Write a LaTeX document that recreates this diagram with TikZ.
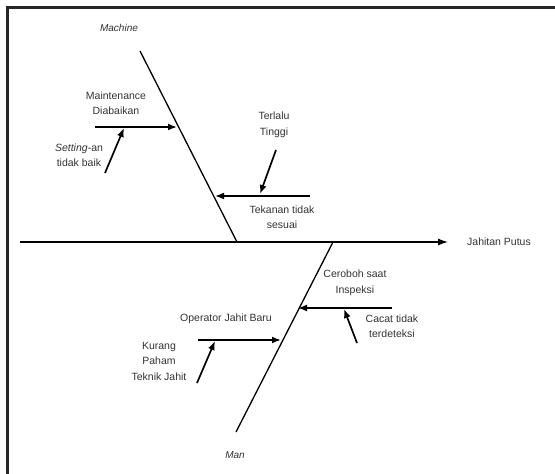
\documentclass[tikz,border=0pt]{standalone}
\usepackage{fontspec}
\setmainfont{Liberation Sans}
\usetikzlibrary{arrows.meta}

\begin{document}
\begin{tikzpicture}[x=1pt,y=-1pt,font=\fontsize{10.5}{15.5}\selectfont] % 1pt = 1 pixel of the reference
    \tikzstyle{cause}=[align=center, inner sep=1pt, text=black!80]
    \tikzstyle{bone}=[line width=1.3pt]
    \tikzstyle{sub}=[line width=1.7pt, -{Latex[length=9pt,width=7pt]}]
    \useasboundingbox (0,0) rectangle (555,474);
    \draw[line width=3pt, black!85] (7.5,474) -- (7.5,7.5) -- (555,7.5); % frame

    % spine and effect
    \coordinate (sp0) at (20,242);
    \coordinate (sp1) at (448,242);
    \node[cause, anchor=west] (effect) at (466,242) {Jahitan Putus};
    \draw[bone, -{Latex[length=10pt,width=7pt]}] (sp0) -- (sp1);

    % Machine
    \node[cause, font=\itshape] (machine) at (119,28) {Machine};
    \coordinate (mtop) at (140,51);
    \coordinate (mbot) at (237,242);
    \draw[bone] (mtop) -- (mbot);

    \node[cause] (maint) at (116,103) {Maintenance\\Diabaikan};
    \coordinate (maint0) at (95,127);
    \coordinate (maint1) at (177,127);
    \draw[sub] (maint0) -- (maint1);
    \node[cause] (setting) at (79,155) {\textit{Setting}-an\\tidak baik};
    \coordinate (set0) at (105,173);
    \coordinate (set1) at (124,128);
    \draw[sub] (set0) -- (set1);

    \node[cause] (tekanan) at (282,217) {Tekanan tidak\\sesuai};
    \coordinate (tek0) at (310,196);
    \coordinate (tek1) at (215,196);
    \draw[sub] (tek0) -- (tek1);
    \node[cause] (terlalu) at (274,125) {Terlalu\\Tinggi};
    \coordinate (ter0) at (276,150);
    \coordinate (ter1) at (260,194);
    \draw[sub] (ter0) -- (ter1);

    % Man
    \node[cause, font=\itshape] (man) at (235,455) {Man};
    \coordinate (ntop) at (333,242);
    \coordinate (nbot) at (236,432);
    \draw[bone] (ntop) -- (nbot);

    \node[cause] (ceroboh) at (355,283) {Ceroboh saat\\Inspeksi};
    \coordinate (cac0) at (392,308);
    \coordinate (cac1) at (298,308);
    \draw[sub] (cac0) -- (cac1);
    \node[cause] (cacat) at (392,326) {Cacat tidak\\terdeteksi};
    \coordinate (det0) at (357,343);
    \coordinate (det1) at (344,309);
    \draw[sub] (det0) -- (det1);

    \node[cause] (operator) at (226,319) {Operator Jahit Baru};
    \coordinate (op0) at (198,340);
    \coordinate (op1) at (281,340);
    \draw[sub] (op0) -- (op1);
    \node[cause] (kurang) at (159,361) {Kurang\\Paham\\Teknik Jahit};
    \coordinate (kur0) at (197,383);
    \coordinate (kur1) at (215,341);
    \draw[sub] (kur0) -- (kur1);
\end{tikzpicture}
\end{document}
